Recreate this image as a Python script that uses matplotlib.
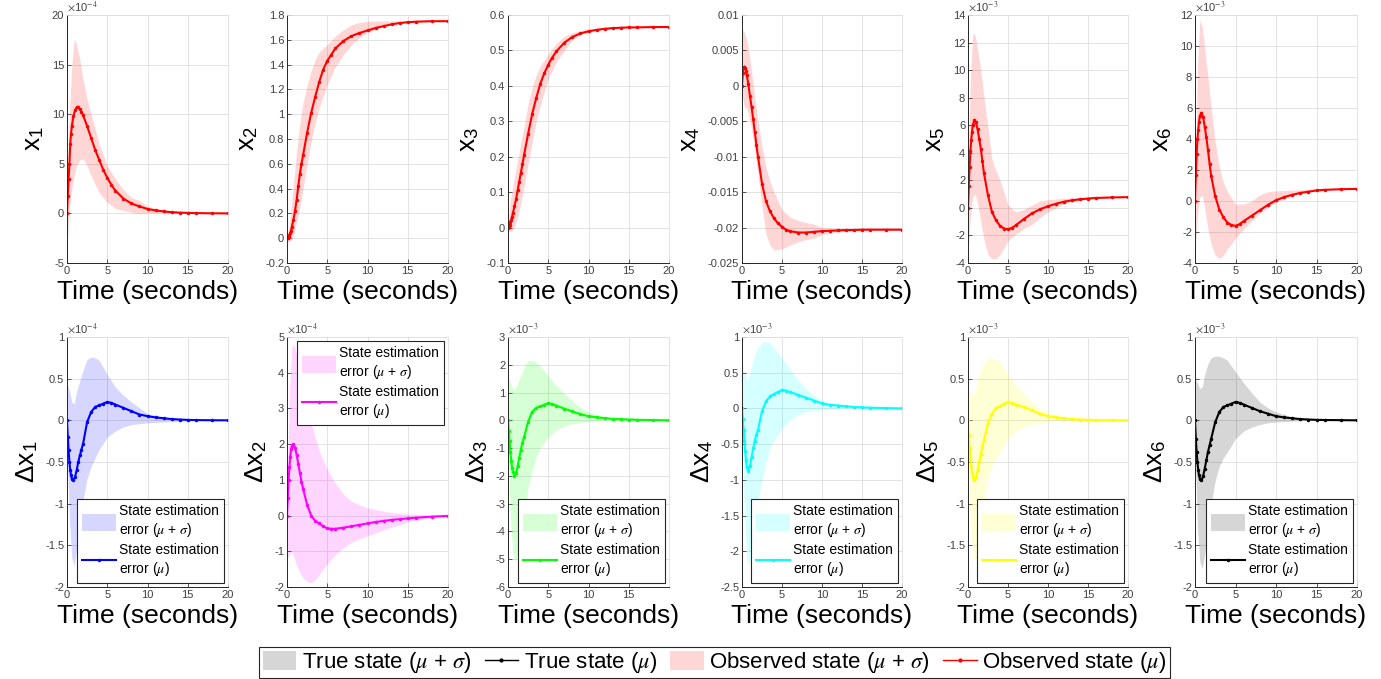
import numpy as np
import matplotlib
matplotlib.use("Agg")
import matplotlib.pyplot as plt
from matplotlib.patches import Patch
from matplotlib.lines import Line2D
from matplotlib.ticker import FuncFormatter

plt.rcParams['font.family'] = ['Liberation Sans', 'DejaVu Sans']
plt.rcParams['mathtext.fontset'] = 'stix'
plt.rcParams['axes.unicode_minus'] = False

# sample times for the mean traces and for the mean +/- sigma envelopes
t_mu = [0, 0.1, 0.2, 0.3, 0.4, 0.5, 0.6, 0.8, 1.0, 1.2, 1.4, 1.6, 1.8, 2.0, 2.5, 3.0, 3.5,
        4.0, 4.5, 5.0, 5.5, 6, 7, 8, 9, 10, 11, 12, 13, 14, 15, 16, 18, 20]
t_band = [0, 0.3, 0.6, 0.9, 1.2, 1.6, 2, 2.5, 3, 3.5, 4, 5, 6, 7, 8, 9, 10, 12, 14, 16, 20]

# observed states (x1 in 1e-4 units, x4..x6 in 1e-3 units)
x1_mu = [0, 1.8, 3.5, 5.0, 7.0, 8.0, 8.8, 9.8, 10.4, 10.7, 10.7, 10.5, 10.2, 9.9, 8.8, 7.6, 6.4,
         5.4, 4.4, 3.6, 2.9, 2.3, 1.5, 1.0, 0.7, 0.45, 0.3, 0.2, 0.12, 0.08, 0.05, 0.03, 0.01, 0.0]
x1_hi = [0, 10, 15, 17.6, 17, 15.5, 13.5, 11.5, 10, 8.5, 7, 4.8, 3.5, 2.4, 1.6, 1.3, 0.7, 0.3, 0.1, 0.05, 0]
x1_lo = [-3.5, 0.5, 2.5, 3.8, 4.8, 5.4, 5.5, 4.8, 3.8, 2.9, 2.1, 1.1, 0.5, 0.3, 0.1, 0.0, 0.05, 0.05, 0.02, 0.01, 0]

x2_mu = [0, 0.005, 0.01, 0.025, 0.04, 0.06, 0.09, 0.15, 0.22, 0.31, 0.42, 0.52, 0.6, 0.67, 0.85, 1.01, 1.14,
         1.26, 1.36, 1.43, 1.48, 1.53, 1.59, 1.63, 1.655, 1.675, 1.695, 1.71, 1.725, 1.735, 1.742, 1.746, 1.75, 1.75]
x2_hi = [0, 0.1, 0.3, 0.5, 0.7, 0.93, 1.1, 1.23, 1.35, 1.44, 1.5, 1.56, 1.63, 1.68, 1.72, 1.74, 1.75, 1.752, 1.752, 1.752, 1.752]
x2_lo = [-0.02, -0.03, -0.01, 0.05, 0.13, 0.25, 0.4, 0.6, 0.78, 0.93, 1.05, 1.24, 1.38, 1.48, 1.56, 1.62, 1.66, 1.71, 1.74, 1.75, 1.752]

x3_mu = [0, 0.003, 0.008, 0.015, 0.022, 0.03, 0.04, 0.06, 0.08, 0.105, 0.13, 0.155, 0.18, 0.205, 0.265, 0.32, 0.365,
         0.405, 0.435, 0.46, 0.48, 0.497, 0.522, 0.538, 0.548, 0.554, 0.558, 0.561, 0.563, 0.564, 0.565, 0.565, 0.566, 0.566]
x3_hi = [0, 0.08, 0.115, 0.155, 0.19, 0.24, 0.285, 0.35, 0.395, 0.43, 0.455, 0.49, 0.52, 0.54, 0.55, 0.556, 0.56, 0.564, 0.566, 0.566, 0.566]
x3_lo = [-0.01, -0.012, -0.008, 0.008, 0.03, 0.07, 0.117, 0.18, 0.24, 0.3, 0.345, 0.42, 0.468, 0.5, 0.53, 0.545, 0.552, 0.56, 0.564, 0.565, 0.566]

x4_mu = [0, 1.8, 2.6, 2.7, 2.5, 2.1, 1.5, 0.2, -1.5, -3.0, -4.7, -6.5, -8.3, -10.0, -13.8, -16.3, -17.7,
         -18.7, -19.4, -19.9, -20.3, -20.5, -20.7, -20.7, -20.6, -20.5, -20.45, -20.4, -20.35, -20.35, -20.3, -20.3, -20.3, -20.3]
x4_hi = [8, 7.5, 6.5, 4.5, 2, -1.5, -5, -8.5, -11.5, -13.5, -15, -17.5, -18.5, -19, -19.3, -19.5, -20, -20.2, -20.3, -20.3, -20.3]
x4_lo = [-1, -3, -3.2, -4.5, -6, -9, -12.5, -17, -21, -22.5, -23.2, -23, -22.5, -22, -21.7, -21.5, -21, -20.6, -20.4, -20.35, -20.3]

x5_mu = [0, 1.6, 3.0, 4.1, 4.9, 5.5, 6.0, 6.4, 6.2, 5.7, 5.0, 4.3, 3.4, 2.5, 0.9, -0.3, -0.9,
         -1.3, -1.5, -1.55, -1.45, -1.25, -0.8, -0.4, -0.1, 0.12, 0.3, 0.45, 0.55, 0.62, 0.68, 0.72, 0.76, 0.78]
x5_hi = [2, 9.5, 12.7, 12.5, 11.5, 10, 8, 5.8, 3.5, 2.7, 2.0, 0.2, -0.3, -0.1, 0.2, 0.5, 0.6, 0.7, 0.75, 0.78, 0.78]
x5_lo = [-3.5, -0.5, 0.8, 1.0, 0.3, -1, -2.3, -3.4, -3.7, -3.7, -3.4, -2.4, -1.9, -1.5, -1.2, -0.7, -0.3, 0.3, 0.55, 0.7, 0.78]

x6_mu = [0, 1.7, 3.0, 4.0, 4.6, 5.1, 5.5, 5.7, 5.4, 4.8, 4.1, 3.3, 2.4, 1.6, 0.3, -0.55, -1.05,
         -1.4, -1.55, -1.6, -1.5, -1.3, -0.95, -0.6, -0.25, 0.05, 0.25, 0.4, 0.52, 0.6, 0.68, 0.72, 0.76, 0.78]
x6_hi = [0, 8.5, 11.7, 11.2, 9.8, 8, 6, 3.8, 2.2, 1.2, 0.6, -0.2, -0.2, 0.0, 0.4, 0.6, 0.65, 0.7, 0.75, 0.78, 0.78]
x6_lo = [-3.2, -1, 0.3, 0.4, -0.5, -1.8, -2.8, -3.5, -3.7, -3.5, -3.1, -2.4, -1.8, -1.3, -0.8, -0.4, -0.1, 0.35, 0.6, 0.72, 0.78]

# state estimation errors (dx1, dx2 in 1e-4 units, the rest in 1e-3 units)
dx1_mu = [0, -0.2, -0.36, -0.5, -0.6, -0.66, -0.7, -0.72, -0.68, -0.6, -0.5, -0.42, -0.35, -0.28, -0.02, 0.1, 0.16,
          0.18, 0.2, 0.22, 0.21, 0.19, 0.15, 0.11, 0.07, 0.05, 0.035, 0.025, 0.015, 0.01, 0.005, 0.003, 0.001, 0]
dx1_hi = [0.45, 0.35, 0.22, 0.2, 0.35, 0.48, 0.6, 0.73, 0.76, 0.75, 0.72, 0.55, 0.4, 0.3, 0.22, 0.15, 0.08, 0.04, 0.015, 0.005, 0]
dx1_lo = [-0.3, -1.2, -1.65, -1.75, -1.55, -1.2, -0.95, -0.7, -0.55, -0.45, -0.35, -0.2, -0.13, -0.08, -0.05, -0.04, -0.03, -0.02, -0.01, 0, 0]

dx2_mu = [0, 0.5, 1.0, 1.35, 1.65, 1.85, 1.95, 2.0, 1.9, 1.7, 1.45, 1.2, 0.95, 0.75, 0.3, 0.0, -0.15,
          -0.22, -0.3, -0.36, -0.37, -0.37, -0.34, -0.3, -0.26, -0.22, -0.18, -0.15, -0.12, -0.1, -0.08, -0.06, -0.03, -0.01]
dx2_hi = [0.5, 3.5, 4.7, 4.8, 4.5, 4.0, 3.5, 3.0, 2.6, 2.2, 1.8, 1.3, 0.9, 0.6, 0.4, 0.3, 0.22, 0.12, 0.06, 0.03, 0.01]
dx2_lo = [-1.2, -1.1, -1.0, -1.2, -1.4, -1.6, -1.75, -1.85, -1.88, -1.8, -1.65, -1.35, -1.1, -0.9, -0.75, -0.65, -0.57, -0.4, -0.25, -0.12, -0.03]

dx3_mu = [0, -0.4, -0.75, -1.15, -1.45, -1.7, -1.85, -2.0, -1.9, -1.65, -1.35, -1.05, -0.8, -0.6, -0.05, 0.3, 0.45,
          0.5, 0.56, 0.62, 0.58, 0.53, 0.42, 0.32, 0.22, 0.15, 0.11, 0.08, 0.05, 0.04, 0.03, 0.02, 0.01, 0]
dx3_hi = [1.6, 1.35, 1.15, 1.1, 1.35, 1.6, 1.9, 2.15, 2.15, 2.1, 1.95, 1.6, 1.25, 0.95, 0.7, 0.45, 0.3, 0.12, 0.04, 0.01, 0]
dx3_lo = [-1.0, -3.5, -4.8, -5.1, -4.8, -4.3, -3.4, -2.4, -1.8, -1.3, -1.0, -0.6, -0.35, -0.2, -0.12, -0.08, -0.05, -0.02, -0.01, 0, 0]

dx4_mu = [0, -0.15, -0.3, -0.45, -0.6, -0.72, -0.82, -0.87, -0.8, -0.68, -0.56, -0.45, -0.37, -0.3, -0.04, 0.1, 0.17,
          0.2, 0.23, 0.26, 0.25, 0.23, 0.19, 0.15, 0.11, 0.07, 0.05, 0.04, 0.03, 0.02, 0.015, 0.01, 0.005, 0]
dx4_hi = [0.65, 0.5, 0.4, 0.45, 0.6, 0.75, 0.85, 0.93, 0.93, 0.92, 0.85, 0.7, 0.55, 0.4, 0.28, 0.18, 0.1, 0.06, 0.02, 0.01, 0]
dx4_lo = [-0.2, -1.5, -2.1, -2.2, -1.95, -1.6, -1.3, -1.0, -0.75, -0.55, -0.45, -0.28, -0.16, -0.09, -0.05, -0.03, -0.02, -0.01, 0, 0, 0]

dx5_mu = [0, -0.18, -0.33, -0.45, -0.55, -0.63, -0.68, -0.72, -0.68, -0.6, -0.5, -0.4, -0.31, -0.24, -0.03, 0.08, 0.15,
          0.17, 0.2, 0.22, 0.21, 0.19, 0.16, 0.12, 0.08, 0.05, 0.035, 0.025, 0.015, 0.01, 0.005, 0.003, 0.001, 0]
dx5_hi = [0.42, 0.35, 0.3, 0.35, 0.5, 0.6, 0.68, 0.75, 0.75, 0.73, 0.7, 0.55, 0.42, 0.32, 0.22, 0.14, 0.1, 0.04, 0.01, 0, 0]
dx5_lo = [-0.2, -1.2, -1.6, -1.72, -1.55, -1.25, -0.95, -0.7, -0.55, -0.45, -0.38, -0.22, -0.13, -0.08, -0.05, -0.03, -0.02, -0.01, 0, 0, 0]

dx6_mu = [0, -0.22, -0.38, -0.5, -0.6, -0.66, -0.7, -0.72, -0.67, -0.58, -0.48, -0.38, -0.3, -0.22, -0.02, 0.1, 0.16,
          0.18, 0.2, 0.22, 0.21, 0.19, 0.15, 0.11, 0.08, 0.05, 0.035, 0.025, 0.015, 0.01, 0.006, 0.004, 0.002, 0]
dx6_hi = [0.5, 0.45, 0.38, 0.4, 0.55, 0.68, 0.75, 0.77, 0.77, 0.75, 0.72, 0.58, 0.45, 0.33, 0.22, 0.15, 0.1, 0.04, 0.01, 0, 0]
dx6_lo = [-0.3, -1.3, -1.7, -1.78, -1.6, -1.3, -1.0, -0.72, -0.55, -0.45, -0.38, -0.22, -0.13, -0.08, -0.05, -0.03, -0.02, -0.01, 0, 0, 0]

# (label, mean, upper, lower, data unit, shown exponent, y-tick range[, colour, legend loc])
top_panels = [
    ('x$_\\mathregular{1}$', x1_mu, x1_hi, x1_lo, 1e-4, -4, (-5, 20, 5)),
    ('x$_\\mathregular{2}$', x2_mu, x2_hi, x2_lo, 1, 0, (-0.2, 1.8, 0.2)),
    ('x$_\\mathregular{3}$', x3_mu, x3_hi, x3_lo, 1, 0, (-0.1, 0.6, 0.1)),
    ('x$_\\mathregular{4}$', x4_mu, x4_hi, x4_lo, 1e-3, 0, (-0.025, 0.01, 0.005)),
    ('x$_\\mathregular{5}$', x5_mu, x5_hi, x5_lo, 1e-3, -3, (-4, 14, 2)),
    ('x$_\\mathregular{6}$', x6_mu, x6_hi, x6_lo, 1e-3, -3, (-4, 12, 2)),
]
bottom_panels = [
    ('Δx$_\\mathregular{1}$', dx1_mu, dx1_hi, dx1_lo, 1e-4, -4, (-2, 1, 0.5), '#0000ff', 'lower right'),
    ('Δx$_\\mathregular{2}$', dx2_mu, dx2_hi, dx2_lo, 1e-4, -4, (-2, 5, 1), '#ff00ff', 'upper right'),
    ('Δx$_\\mathregular{3}$', dx3_mu, dx3_hi, dx3_lo, 1e-3, -3, (-6, 3, 1), '#00ff00', 'lower right'),
    ('Δx$_\\mathregular{4}$', dx4_mu, dx4_hi, dx4_lo, 1e-3, -3, (-2.5, 1, 0.5), '#00ffff', 'lower right'),
    ('Δx$_\\mathregular{5}$', dx5_mu, dx5_hi, dx5_lo, 1e-3, -3, (-2, 1, 0.5), '#ffff00', 'lower right'),
    ('Δx$_\\mathregular{6}$', dx6_mu, dx6_hi, dx6_lo, 1e-3, -3, (-2, 1, 0.5), '#000000', 'lower right'),
]

W, H = 1381, 679
col_l = [67, 287, 508, 742, 968, 1195]
col_r = [228, 448, 669, 902, 1128, 1357]
rows_y = [(15, 263), (337, 587)]
band_alpha = 0.16
axis_col = '#262626'


def style_axes(ax, ylabel, expo, yr, xticks):
    lo, hi, step = yr
    shown = np.round(np.arange(lo, hi + step / 2, step), 6)
    ax.set_ylim(lo * 10.0 ** expo, hi * 10.0 ** expo)
    ax.set_yticks(shown * 10.0 ** expo)
    ax.yaxis.set_major_formatter(FuncFormatter(lambda v, p: '%g' % round(v / 10.0 ** expo, 6)))
    ax.set_xlim(0, 20)
    ax.set_xticks(xticks)
    ax.xaxis.set_major_formatter(FuncFormatter(lambda v, p: '%g' % v))
    ax.grid(True, color='#dedede', lw=0.6)
    ax.set_axisbelow(True)
    for s in ('top', 'right'):
        ax.spines[s].set_color('#dedede')
        ax.spines[s].set_linewidth(0.6)
    for s in ('left', 'bottom'):
        ax.spines[s].set_color(axis_col)
        ax.spines[s].set_linewidth(0.7)
    ax.tick_params(direction='in', length=3, width=0.6, labelsize=8, colors='#404040', pad=2)
    ax.set_ylabel(ylabel, fontsize=19, labelpad=4)
    ax.set_xlabel('Time (seconds)', fontsize=19, labelpad=3)
    if expo != 0:
        ax.text(0.0, 1.005, r'$\times$10$^{%d}$' % expo, transform=ax.transAxes,
                ha='left', va='bottom', fontsize=8, color='#404040')


fig = plt.figure(figsize=(W / 100, H / 100), dpi=100)

for r, panels in enumerate([top_panels, bottom_panels]):
    y0, y1 = rows_y[r]
    for i, p in enumerate(panels):
        ax = fig.add_axes([col_l[i] / W, 1 - y1 / H, (col_r[i] - col_l[i]) / W, (y1 - y0) / H])
        if r == 0:
            label, mu, hi, lo, unit, expo, yr = p
            c = '#ff0000'
        else:
            label, mu, hi, lo, unit, expo, yr, c, loc = p
        band = ax.fill_between(t_band, np.array(hi) * unit, np.array(lo) * unit,
                               color=c, alpha=band_alpha, lw=0)
        line, = ax.plot(t_mu, np.array(mu) * unit, '.-', color=c, lw=1.5, ms=3)
        xt = [0, 5, 10, 15] if (r == 1 and i == 2) else [0, 5, 10, 15, 20]
        style_axes(ax, label, expo, yr, xt)
        if r == 1:
            leg = ax.legend([band, line],
                            ['State estimation\nerror ($\\mu$ + $\\sigma$)',
                             'State estimation\nerror ($\\mu$)'],
                            loc=loc, fontsize=10, fancybox=False, framealpha=1,
                            edgecolor=axis_col, handlelength=2.4, handleheight=1.5,
                            handletextpad=0.25, borderpad=0.35, labelspacing=0.35,
                            borderaxespad=0.3)
            leg.get_frame().set_linewidth(0.8)

# shared legend along the bottom
handles = [Patch(facecolor='#000000', alpha=band_alpha, lw=0),
           Line2D([], [], color='#000000', marker='.', lw=1, ms=4),
           Patch(facecolor='#ff0000', alpha=band_alpha, lw=0),
           Line2D([], [], color='#ff0000', marker='.', lw=1, ms=4)]
labels = ['True state ($\\mu$ + $\\sigma$)', 'True state ($\\mu$)',
          'Observed state ($\\mu$ + $\\sigma$)', 'Observed state ($\\mu$)']
fl = fig.legend(handles, labels, loc='center', bbox_to_anchor=(0.5174, 0.0243), ncol=4,
                fontsize=16, fancybox=False, framealpha=1, edgecolor=axis_col,
                handlelength=1.5, handleheight=0.9, handletextpad=0.25,
                columnspacing=0.6, borderpad=0.15)
fl.get_frame().set_linewidth(0.8)

fig.savefig('out.png', dpi=100)
